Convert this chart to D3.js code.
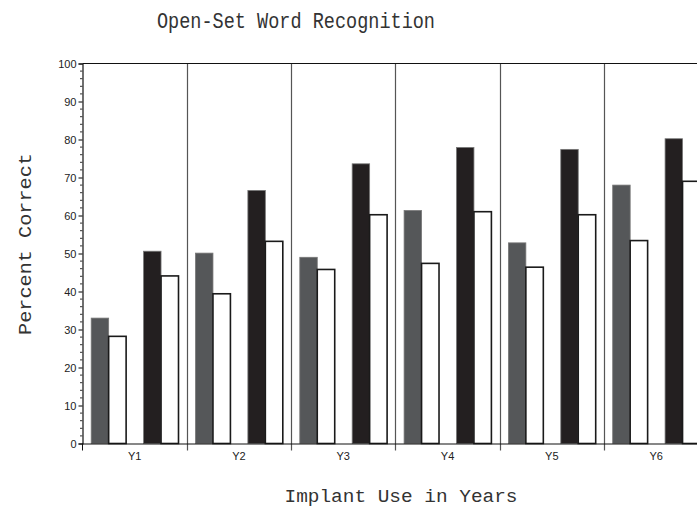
<!DOCTYPE html>
<html>
<head>
<meta charset="utf-8">
<script src="https://cdn.jsdelivr.net/npm/d3@7"></script>
<style>
  body { margin: 0; background: #fff; }
  svg { display: block; }
</style>
</head>
<body>
<div id="chart"></div>
<script>
// data
const years = ["Y1", "Y2", "Y3", "Y4", "Y5", "Y6"];
const seriesKeys = ["s1", "s2", "s3", "s4"];
const s1 = [33, 50.1, 49, 61.3, 52.8, 68];
const s2 = [28.2, 39.4, 45.8, 47.4, 46.4, 53.4];
const s3 = [50.6, 66.6, 73.6, 77.9, 77.4, 80.2];
const s4 = [44.1, 53.2, 60.2, 61, 60.2, 69];
const yTicks = [0, 10, 20, 30, 40, 50, 60, 70, 80, 90, 100];

const fills = { s1: "#555759", s2: "#ffffff", s3: "#231f20", s4: "#ffffff" };

const width = 697, height = 510;
const plotLeft = 82.5, plotTop = 63.5, plotBottom = 443.5;
const groupW = 104.3;
const plotRight = plotLeft + groupW * years.length;

const svg = d3.select("#chart")
  .append("svg")
  .attr("width", width)
  .attr("height", height);

const x0 = d3.scaleBand()
  .domain(years)
  .range([plotLeft, plotRight])
  .padding(0);

// five slots per group, the middle one left empty
const x1 = d3.scaleBand()
  .domain(["s1", "s2", "gap", "s3", "s4"])
  .range([8.7, 96])
  .padding(0);

const y = d3.scaleLinear()
  .domain([0, 100])
  .range([plotBottom, plotTop]);

const rows = years.map((yr, i) => ({
  year: yr,
  vals: [
    { key: "s1", v: s1[i] },
    { key: "s2", v: s2[i] },
    { key: "s3", v: s3[i] },
    { key: "s4", v: s4[i] }
  ]
}));

// group separators
svg.append("g")
  .selectAll("line")
  .data(years.slice(1))
  .enter().append("line")
  .attr("x1", d => Math.round(x0(d)) + 0.5)
  .attr("x2", d => Math.round(x0(d)) + 0.5)
  .attr("y1", plotTop)
  .attr("y2", plotBottom + 7)
  .attr("stroke", "#555")
  .attr("stroke-width", 1.2);

// top frame line
svg.append("line")
  .attr("x1", plotLeft).attr("x2", width)
  .attr("y1", plotTop).attr("y2", plotTop)
  .attr("stroke", "#111")
  .attr("stroke-width", 1.2);

// bars
svg.append("g")
  .selectAll("g")
  .data(rows)
  .enter().append("g")
  .attr("transform", d => `translate(${x0(d.year)},0)`)
  .selectAll("rect")
  .data(d => d.vals)
  .enter().append("rect")
  .attr("x", d => x1(d.key))
  .attr("y", d => y(d.v))
  .attr("width", x1.bandwidth())
  .attr("height", d => plotBottom - y(d.v))
  .attr("fill", d => fills[d.key])
  .attr("stroke", d => fills[d.key] === "#ffffff" ? "#1a1a1a" : "#777")
  .attr("stroke-width", d => fills[d.key] === "#ffffff" ? 1.6 : 0.8);

// y axis
const yAxis = svg.append("g")
  .attr("transform", `translate(${plotLeft},0)`)
  .call(d3.axisLeft(y).tickValues(yTicks).tickSize(4).tickPadding(2))
  .call(g => g.select(".domain").attr("stroke", "#111").attr("stroke-width", 1.2));
yAxis.selectAll("text")
  .style("font-family", "Liberation Sans, Arial, sans-serif")
  .style("font-size", "11px")
  .attr("fill", "#222");

// minor ticks every 2
svg.append("g")
  .selectAll("line")
  .data(d3.range(0, 101, 2).filter(v => v % 10 !== 0))
  .enter().append("line")
  .attr("x1", plotLeft - 2.5).attr("x2", plotLeft)
  .attr("y1", d => y(d)).attr("y2", d => y(d))
  .attr("stroke", "#333");

// x axis
const xAxis = svg.append("g")
  .attr("transform", `translate(0,${plotBottom})`)
  .call(d3.axisBottom(x0).tickSize(0).tickPadding(9))
  .call(g => g.select(".domain").attr("stroke", "#111").attr("stroke-width", 1.2));
xAxis.selectAll("text")
  .style("font-family", "Liberation Sans, Arial, sans-serif")
  .style("font-size", "11px")
  .attr("fill", "#222");

// tick at the first group boundary
svg.append("g")
  .selectAll("line")
  .data(years.slice(0, 1))
  .enter().append("line")
  .attr("x1", d => x0(d)).attr("x2", d => x0(d))
  .attr("y1", plotBottom).attr("y2", plotBottom + 7)
  .attr("stroke", "#111");

// title
svg.append("text")
  .attr("x", 296)
  .attr("y", 28)
  .attr("text-anchor", "middle")
  .attr("textLength", 278)
  .attr("lengthAdjust", "spacingAndGlyphs")
  .style("font-family", "Liberation Mono, Courier New, monospace")
  .style("font-size", "22px")
  .attr("fill", "#333")
  .text("Open-Set Word Recognition");

// x label
svg.append("text")
  .attr("x", 401)
  .attr("y", 502)
  .attr("text-anchor", "middle")
  .attr("textLength", 233)
  .attr("lengthAdjust", "spacingAndGlyphs")
  .style("font-family", "Liberation Mono, Courier New, monospace")
  .style("font-size", "19px")
  .attr("fill", "#333")
  .text("Implant Use in Years");

// y label
svg.append("text")
  .attr("transform", "translate(31,244) rotate(-90)")
  .attr("text-anchor", "middle")
  .attr("textLength", 182)
  .attr("lengthAdjust", "spacingAndGlyphs")
  .style("font-family", "Liberation Mono, Courier New, monospace")
  .style("font-size", "19px")
  .attr("fill", "#333")
  .text("Percent Correct");
</script>
</body>
</html>
